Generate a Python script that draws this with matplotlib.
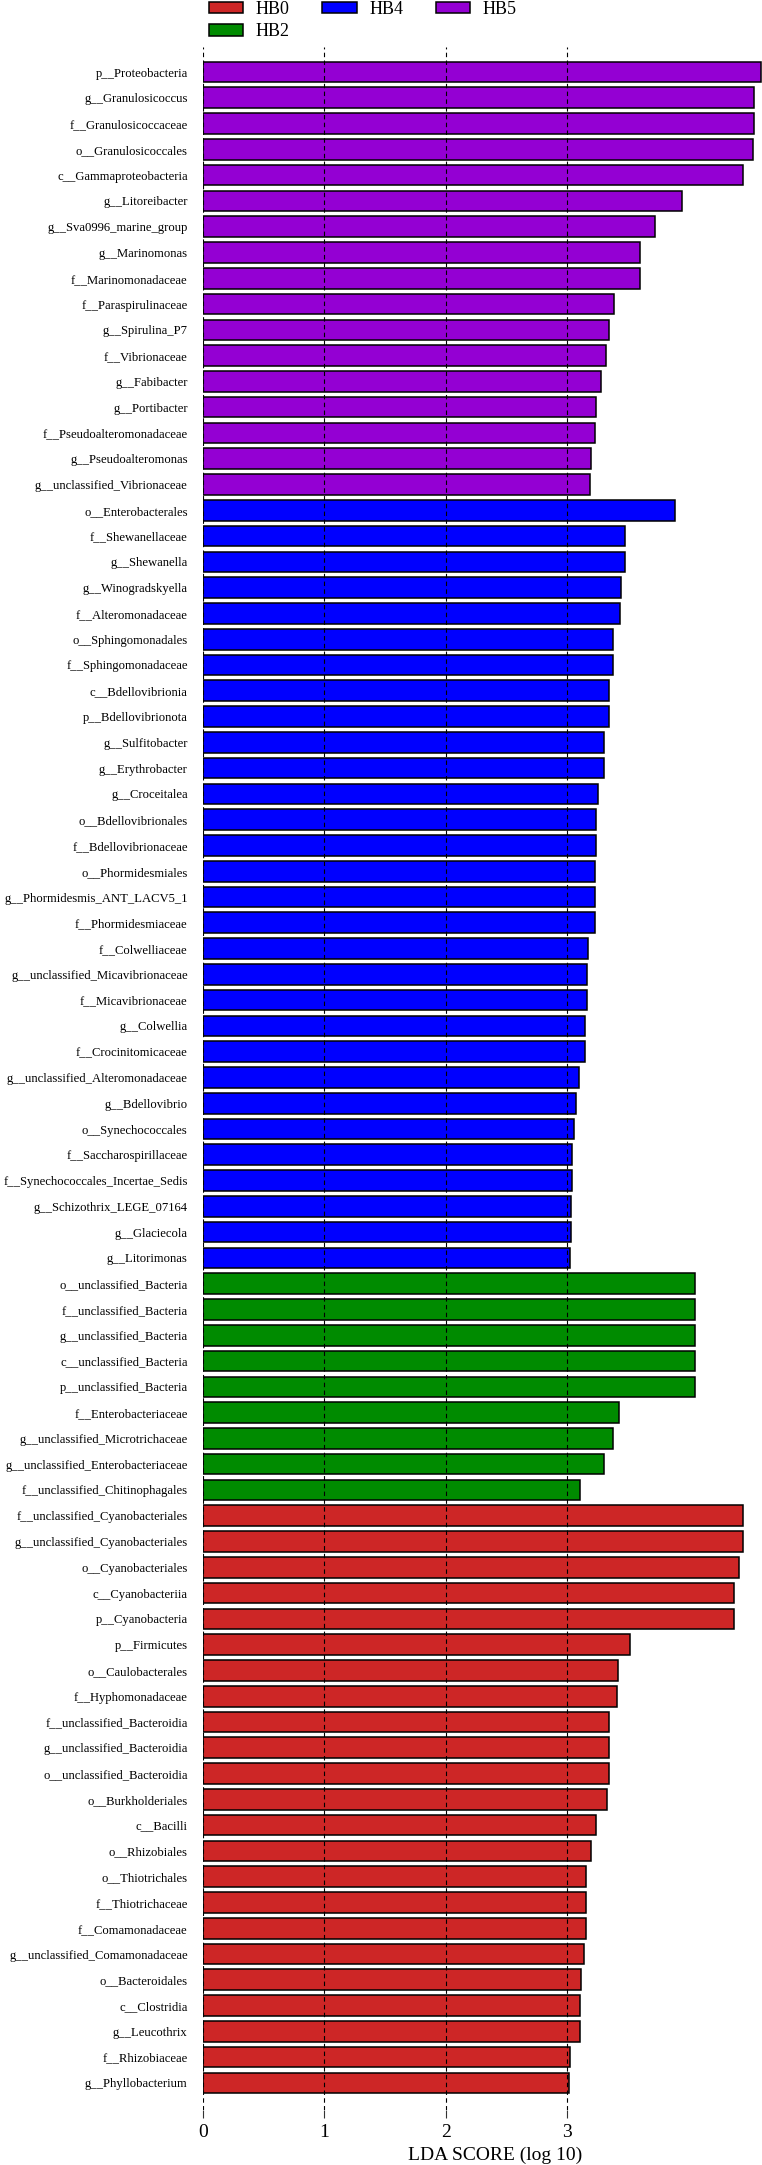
import matplotlib
matplotlib.use("Agg")
import matplotlib.pyplot as plt
from matplotlib.patches import Patch

plt.rcParams['font.family'] = ['Liberation Serif', 'DejaVu Serif']

# LEfSe results, top to bottom, grouped by class
hb5_taxa = ["p__Proteobacteria", "g__Granulosicoccus", "f__Granulosicoccaceae", "o__Granulosicoccales",
            "c__Gammaproteobacteria", "g__Litoreibacter", "g__Sva0996_marine_group", "g__Marinomonas",
            "f__Marinomonadaceae", "f__Paraspirulinaceae", "g__Spirulina_P7", "f__Vibrionaceae",
            "g__Fabibacter", "g__Portibacter", "f__Pseudoalteromonadaceae", "g__Pseudoalteromonas",
            "g__unclassified_Vibrionaceae"]
hb5_lda = [4.598, 4.54, 4.54, 4.535, 4.455, 3.952, 3.724, 3.605, 3.605, 3.391, 3.347, 3.325,
           3.284, 3.243, 3.232, 3.196, 3.193]

hb4_taxa = ["o__Enterobacterales", "f__Shewanellaceae", "g__Shewanella", "g__Winogradskyella",
            "f__Alteromonadaceae", "o__Sphingomonadales", "f__Sphingomonadaceae", "c__Bdellovibrionia",
            "p__Bdellovibrionota", "g__Sulfitobacter", "g__Erythrobacter", "g__Croceitalea",
            "o__Bdellovibrionales", "f__Bdellovibrionaceae", "o__Phormidesmiales",
            "g__Phormidesmis_ANT_LACV5_1", "f__Phormidesmiaceae", "f__Colwelliaceae",
            "g__unclassified_Micavibrionaceae", "f__Micavibrionaceae", "g__Colwellia",
            "f__Crocinitomicaceae", "g__unclassified_Alteromonadaceae", "g__Bdellovibrio",
            "o__Synechococcales", "f__Saccharospirillaceae", "f__Synechococcales_Incertae_Sedis",
            "g__Schizothrix_LEGE_07164", "g__Glaciecola", "g__Litorimonas"]
hb4_lda = [3.888, 3.479, 3.479, 3.443, 3.438, 3.377, 3.377, 3.344, 3.344, 3.306, 3.303, 3.259,
           3.237, 3.237, 3.232, 3.232, 3.232, 3.171, 3.163, 3.163, 3.152, 3.146, 3.100, 3.075,
           3.056, 3.042, 3.039, 3.036, 3.031, 3.028]

hb2_taxa = ["o__unclassified_Bacteria", "f__unclassified_Bacteria", "g__unclassified_Bacteria",
            "c__unclassified_Bacteria", "p__unclassified_Bacteria", "f__Enterobacteriaceae",
            "g__unclassified_Microtrichaceae", "g__unclassified_Enterobacteriaceae",
            "f__unclassified_Chitinophagales"]
hb2_lda = [4.056, 4.056, 4.056, 4.056, 4.056, 3.427, 3.377, 3.309, 3.111]

hb0_taxa = ["f__unclassified_Cyanobacteriales", "g__unclassified_Cyanobacteriales", "o__Cyanobacteriales",
            "c__Cyanobacteriia", "p__Cyanobacteria", "p__Firmicutes", "o__Caulobacterales",
            "f__Hyphomonadaceae", "f__unclassified_Bacteroidia", "g__unclassified_Bacteroidia",
            "o__unclassified_Bacteroidia", "o__Burkholderiales", "c__Bacilli", "o__Rhizobiales",
            "o__Thiotrichales", "f__Thiotrichaceae", "f__Comamonadaceae",
            "g__unclassified_Comamonadaceae", "o__Bacteroidales", "c__Clostridia", "g__Leucothrix",
            "f__Rhizobiaceae", "g__Phyllobacterium"]
hb0_lda = [4.449, 4.449, 4.422, 4.375, 4.375, 3.523, 3.419, 3.41, 3.35, 3.35, 3.35, 3.334,
           3.243, 3.199, 3.16, 3.16, 3.155, 3.144, 3.119, 3.111, 3.111, 3.026, 3.02]

colors = {"HB0": "#CD2626", "HB2": "#008B00", "HB4": "#0000FF", "HB5": "#9400D3"}

taxa = hb5_taxa + hb4_taxa + hb2_taxa + hb0_taxa
lda = hb5_lda + hb4_lda + hb2_lda + hb0_lda
bar_colors = ([colors["HB5"]] * len(hb5_taxa) + [colors["HB4"]] * len(hb4_taxa)
              + [colors["HB2"]] * len(hb2_taxa) + [colors["HB0"]] * len(hb0_taxa))

fig = plt.figure(figsize=(7.62, 21.65), dpi=100)
ax = fig.add_axes([203 / 762, 1 - 2110 / 2165, 1 - 203 / 762, (2110 - 47) / 2165])

ypos = list(range(len(taxa)))
ax.barh(ypos, lda, height=0.8, color=bar_colors, edgecolor="black", linewidth=1.1, zorder=2)

ax.set_xlim(0, 4.608)
ax.set_ylim(len(taxa) - 1 + 1.05, -0.97)
ax.set_yticks(ypos)
ax.set_yticklabels(taxa, fontsize=9.1)
ax.set_xticks([0, 1, 2, 3])
ax.set_xticklabels(["0", "1", "2", "3"], fontsize=14)
ax.tick_params(axis="y", length=0, pad=11)
ax.tick_params(axis="x", length=6, width=0.8, color="#333333", pad=4)

for x in [0, 1, 2, 3]:
    ax.axvline(x, color="black", linestyle=(0, (4, 3)), linewidth=0.8, zorder=3)

for s in ax.spines.values():
    s.set_visible(False)

fig.text(495 / 762, 1 - 2155 / 2165, "LDA SCORE (log 10)", fontsize=14, ha="center", va="center")

handles = [Patch(facecolor=colors[g], edgecolor="black", linewidth=1.1) for g in ["HB0", "HB2", "HB4", "HB5"]]
fig.legend(handles, ["HB0", "HB2", "HB4", "HB5"], loc="upper left", bbox_to_anchor=(209 / 762, 0.9995),
           ncol=3, frameon=False, fontsize=13, borderpad=0, borderaxespad=0,
           handlelength=1.9, handleheight=0.6, handletextpad=0.7, columnspacing=1.8, labelspacing=0.3)

fig.savefig("out.png", dpi=100)
